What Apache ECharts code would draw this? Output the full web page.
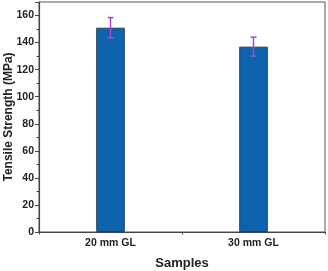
<!DOCTYPE html>
<html><head><meta charset="utf-8">
<script src="https://cdn.jsdelivr.net/npm/echarts@6/dist/echarts.min.js"></script>
<style>html,body{margin:0;padding:0;background:#fff}#c{width:328px;height:271px}</style>
</head><body><div id="c"></div>
<script>
const categories = ['20 mm GL', '30 mm GL'];
const strength = [151, 137];
const errLow = [143.5, 130];
const errHigh = [158.5, 144];
const yTicks = [0, 20, 40, 60, 80, 100, 120, 140, 160];

const chart = echarts.init(document.getElementById('c'), null, {renderer: 'canvas'});
const font = 'Liberation Sans, Arial, sans-serif';
chart.setOption({
  animation: false,
  grid: {left: 39, right: 3, top: 2, bottom: 39, show: true, borderColor: '#555', borderWidth: 1,
    containLabel: false, outerBoundsMode: 'none'},
  xAxis: [{
    type: 'category', data: categories,
    axisLine: {lineStyle: {color: '#444', width: 1.2}},
    axisTick: {alignWithLabel: true, length: 4, lineStyle: {color: '#444'}},
    axisLabel: {color: '#222', fontFamily: font, fontWeight: 'bold', fontSize: 10.5, margin: 6},
    name: 'Samples', nameLocation: 'middle', nameGap: 25, nameMoveOverlap: false,
    nameTextStyle: {color: '#222', fontFamily: font, fontWeight: 'bold', fontSize: 13}
  }, {
    type: 'category', data: categories, position: 'bottom',
    axisLine: {show: false},
    axisTick: {show: true, length: 2.5, lineStyle: {color: '#444'}},
    axisLabel: {show: false}
  }],
  yAxis: {
    type: 'value', min: 0, max: 170, interval: 20,
    splitLine: {show: false},
    axisLine: {show: true, lineStyle: {color: '#444', width: 1.2}},
    axisTick: {show: true, length: 4, lineStyle: {color: '#444'}},
    minorTick: {show: true, splitNumber: 2, length: 2.5, lineStyle: {color: '#444'}},
    axisLabel: {color: '#222', fontFamily: font, fontWeight: 'bold', fontSize: 10.5, margin: 5,
      formatter: v => yTicks.indexOf(v) >= 0 ? String(v) : ''},
    name: 'Tensile Strength (MPa)', nameLocation: 'middle', nameGap: 24, nameMoveOverlap: false,
    nameTextStyle: {color: '#222', fontFamily: font, fontWeight: 'bold', fontSize: 12}
  },
  series: [{
    type: 'bar', data: strength, barWidth: '20%',
    itemStyle: {color: '#0d64ad', borderColor: '#2a3f5c', borderWidth: 1}
  }, {
    type: 'custom',
    data: categories.map((c, i) => [i, errLow[i], errHigh[i]]),
    renderItem: function (params, api) {
      const lo = api.coord([api.value(0), api.value(1)]);
      const hi = api.coord([api.value(0), api.value(2)]);
      const hw = 3;
      const st = {stroke: '#a349cf', lineWidth: 1.5};
      return {type: 'group', children: [
        {type: 'line', shape: {x1: hi[0], y1: hi[1], x2: lo[0], y2: lo[1]}, style: st},
        {type: 'line', shape: {x1: hi[0]-hw, y1: hi[1], x2: hi[0]+hw, y2: hi[1]}, style: st},
        {type: 'line', shape: {x1: lo[0]-hw, y1: lo[1], x2: lo[0]+hw, y2: lo[1]}, style: st}
      ]};
    },
    z: 10
  }]
});
</script></body></html>
